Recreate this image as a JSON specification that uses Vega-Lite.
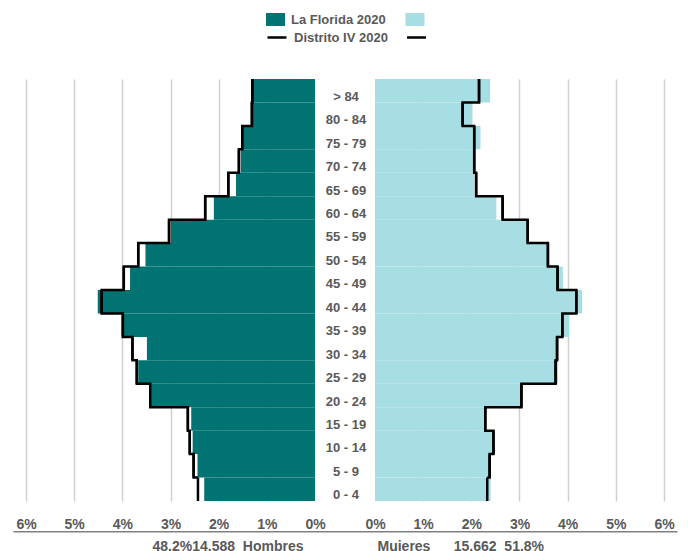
{
  "$schema": "https://vega.github.io/schema/vega-lite/v6.json",
  "width": 664,
  "height": 422,
  "autosize": {"type": "none"},
  "padding": {"left": 13, "top": 79, "right": 11, "bottom": 50},
  "background": "white",
  "config": {"view": {"stroke": null}, "font": "Liberation Sans"},
  "data": {"values": [
    {"edad": "> 84", "sexo": "Hombres", "serie": "La Florida 2020", "pct": 1.28},
    {"edad": "80 - 84", "sexo": "Hombres", "serie": "La Florida 2020", "pct": 1.30},
    {"edad": "75 - 79", "sexo": "Hombres", "serie": "La Florida 2020", "pct": 1.49},
    {"edad": "70 - 74", "sexo": "Hombres", "serie": "La Florida 2020", "pct": 1.54},
    {"edad": "65 - 69", "sexo": "Hombres", "serie": "La Florida 2020", "pct": 1.64},
    {"edad": "60 - 64", "sexo": "Hombres", "serie": "La Florida 2020", "pct": 2.10},
    {"edad": "55 - 59", "sexo": "Hombres", "serie": "La Florida 2020", "pct": 2.99},
    {"edad": "50 - 54", "sexo": "Hombres", "serie": "La Florida 2020", "pct": 3.52},
    {"edad": "45 - 49", "sexo": "Hombres", "serie": "La Florida 2020", "pct": 3.84},
    {"edad": "40 - 44", "sexo": "Hombres", "serie": "La Florida 2020", "pct": 4.51},
    {"edad": "35 - 39", "sexo": "Hombres", "serie": "La Florida 2020", "pct": 3.98},
    {"edad": "30 - 34", "sexo": "Hombres", "serie": "La Florida 2020", "pct": 3.49},
    {"edad": "25 - 29", "sexo": "Hombres", "serie": "La Florida 2020", "pct": 3.67},
    {"edad": "20 - 24", "sexo": "Hombres", "serie": "La Florida 2020", "pct": 3.39},
    {"edad": "15 - 19", "sexo": "Hombres", "serie": "La Florida 2020", "pct": 2.57},
    {"edad": "10 - 14", "sexo": "Hombres", "serie": "La Florida 2020", "pct": 2.54},
    {"edad": "5 - 9", "sexo": "Hombres", "serie": "La Florida 2020", "pct": 2.44},
    {"edad": "0 - 4", "sexo": "Hombres", "serie": "La Florida 2020", "pct": 2.30},
    {"edad": "> 84", "sexo": "Hombres", "serie": "Distrito IV 2020", "pct": 1.30},
    {"edad": "80 - 84", "sexo": "Hombres", "serie": "Distrito IV 2020", "pct": 1.31},
    {"edad": "75 - 79", "sexo": "Hombres", "serie": "Distrito IV 2020", "pct": 1.51},
    {"edad": "70 - 74", "sexo": "Hombres", "serie": "Distrito IV 2020", "pct": 1.58},
    {"edad": "65 - 69", "sexo": "Hombres", "serie": "Distrito IV 2020", "pct": 1.80},
    {"edad": "60 - 64", "sexo": "Hombres", "serie": "Distrito IV 2020", "pct": 2.28},
    {"edad": "55 - 59", "sexo": "Hombres", "serie": "Distrito IV 2020", "pct": 3.03},
    {"edad": "50 - 54", "sexo": "Hombres", "serie": "Distrito IV 2020", "pct": 3.67},
    {"edad": "45 - 49", "sexo": "Hombres", "serie": "Distrito IV 2020", "pct": 3.97},
    {"edad": "40 - 44", "sexo": "Hombres", "serie": "Distrito IV 2020", "pct": 4.43},
    {"edad": "35 - 39", "sexo": "Hombres", "serie": "Distrito IV 2020", "pct": 3.99},
    {"edad": "30 - 34", "sexo": "Hombres", "serie": "Distrito IV 2020", "pct": 3.79},
    {"edad": "25 - 29", "sexo": "Hombres", "serie": "Distrito IV 2020", "pct": 3.70},
    {"edad": "20 - 24", "sexo": "Hombres", "serie": "Distrito IV 2020", "pct": 3.42},
    {"edad": "15 - 19", "sexo": "Hombres", "serie": "Distrito IV 2020", "pct": 2.64},
    {"edad": "10 - 14", "sexo": "Hombres", "serie": "Distrito IV 2020", "pct": 2.60},
    {"edad": "5 - 9", "sexo": "Hombres", "serie": "Distrito IV 2020", "pct": 2.52},
    {"edad": "0 - 4", "sexo": "Hombres", "serie": "Distrito IV 2020", "pct": 2.43},
    {"edad": "> 84", "sexo": "Mujeres", "serie": "La Florida 2020", "pct": 2.39},
    {"edad": "80 - 84", "sexo": "Mujeres", "serie": "La Florida 2020", "pct": 2.02},
    {"edad": "75 - 79", "sexo": "Mujeres", "serie": "La Florida 2020", "pct": 2.19},
    {"edad": "70 - 74", "sexo": "Mujeres", "serie": "La Florida 2020", "pct": 2.08},
    {"edad": "65 - 69", "sexo": "Mujeres", "serie": "La Florida 2020", "pct": 2.06},
    {"edad": "60 - 64", "sexo": "Mujeres", "serie": "La Florida 2020", "pct": 2.52},
    {"edad": "55 - 59", "sexo": "Mujeres", "serie": "La Florida 2020", "pct": 3.15},
    {"edad": "50 - 54", "sexo": "Mujeres", "serie": "La Florida 2020", "pct": 3.57},
    {"edad": "45 - 49", "sexo": "Mujeres", "serie": "La Florida 2020", "pct": 3.90},
    {"edad": "40 - 44", "sexo": "Mujeres", "serie": "La Florida 2020", "pct": 4.30},
    {"edad": "35 - 39", "sexo": "Mujeres", "serie": "La Florida 2020", "pct": 4.03},
    {"edad": "30 - 34", "sexo": "Mujeres", "serie": "La Florida 2020", "pct": 3.80},
    {"edad": "25 - 29", "sexo": "Mujeres", "serie": "La Florida 2020", "pct": 3.80},
    {"edad": "20 - 24", "sexo": "Mujeres", "serie": "La Florida 2020", "pct": 3.04},
    {"edad": "15 - 19", "sexo": "Mujeres", "serie": "La Florida 2020", "pct": 2.29},
    {"edad": "10 - 14", "sexo": "Mujeres", "serie": "La Florida 2020", "pct": 2.47},
    {"edad": "5 - 9", "sexo": "Mujeres", "serie": "La Florida 2020", "pct": 2.39},
    {"edad": "0 - 4", "sexo": "Mujeres", "serie": "La Florida 2020", "pct": 2.40},
    {"edad": "> 84", "sexo": "Mujeres", "serie": "Distrito IV 2020", "pct": 2.16},
    {"edad": "80 - 84", "sexo": "Mujeres", "serie": "Distrito IV 2020", "pct": 1.82},
    {"edad": "75 - 79", "sexo": "Mujeres", "serie": "Distrito IV 2020", "pct": 2.06},
    {"edad": "70 - 74", "sexo": "Mujeres", "serie": "Distrito IV 2020", "pct": 2.06},
    {"edad": "65 - 69", "sexo": "Mujeres", "serie": "Distrito IV 2020", "pct": 2.10},
    {"edad": "60 - 64", "sexo": "Mujeres", "serie": "Distrito IV 2020", "pct": 2.65},
    {"edad": "55 - 59", "sexo": "Mujeres", "serie": "Distrito IV 2020", "pct": 3.17},
    {"edad": "50 - 54", "sexo": "Mujeres", "serie": "Distrito IV 2020", "pct": 3.59},
    {"edad": "45 - 49", "sexo": "Mujeres", "serie": "Distrito IV 2020", "pct": 3.79},
    {"edad": "40 - 44", "sexo": "Mujeres", "serie": "Distrito IV 2020", "pct": 4.18},
    {"edad": "35 - 39", "sexo": "Mujeres", "serie": "Distrito IV 2020", "pct": 3.89},
    {"edad": "30 - 34", "sexo": "Mujeres", "serie": "Distrito IV 2020", "pct": 3.78},
    {"edad": "25 - 29", "sexo": "Mujeres", "serie": "Distrito IV 2020", "pct": 3.75},
    {"edad": "20 - 24", "sexo": "Mujeres", "serie": "Distrito IV 2020", "pct": 3.04},
    {"edad": "15 - 19", "sexo": "Mujeres", "serie": "Distrito IV 2020", "pct": 2.29},
    {"edad": "10 - 14", "sexo": "Mujeres", "serie": "Distrito IV 2020", "pct": 2.46},
    {"edad": "5 - 9", "sexo": "Mujeres", "serie": "Distrito IV 2020", "pct": 2.38},
    {"edad": "0 - 4", "sexo": "Mujeres", "serie": "Distrito IV 2020", "pct": 2.33}
  ]},
  "layer": [
    {
      "layer": [
        {
          "transform": [{"filter": "datum.sexo === 'Hombres' && datum.serie === 'La Florida 2020'"}],
          "mark": {"type": "bar"},
          "encoding": {
            "y": {"field": "edad", "type": "nominal",
              "scale": {"type": "band", "paddingInner": 0, "paddingOuter": 0, "domain": ["> 84","80 - 84","75 - 79","70 - 74","65 - 69","60 - 64","55 - 59","50 - 54","45 - 49","40 - 44","35 - 39","30 - 34","25 - 29","20 - 24","15 - 19","10 - 14","5 - 9","0 - 4"]},
              "axis": {"orient": "left", "offset": -332.5, "title": null, "domain": false, "ticks": false, "tickSize": 0, "grid": false, "labelPadding": 0, "labelAlign": "center", "labelBaseline": "middle", "labelOffset": 6, "labelFont": "Liberation Sans", "labelFontSize": 13, "labelFontWeight": "bold", "labelColor": "#595959"}},
            "x": {"field": "pct", "type": "quantitative",
              "scale": {"domain": [-7.515, 6.27], "reverse": true, "nice": false},
              "axis": {"orient": "top", "offset": -452.3, "values": [0,1,2,3,4,5,6], "labelExpr": "datum.value + '%'", "ticks": false, "tickSize": 0, "labelPadding": 3, "labelBaseline": "alphabetic", "labelFlush": false, "labelOverlap": false, "labelFont": "Liberation Sans", "labelFontSize": 14, "labelFontWeight": "bold", "labelColor": "#595959", "domain": true, "domainColor": "#808080", "domainWidth": 1.5, "grid": true, "gridColor": {"condition": {"test": "datum.value === 0", "value": "transparent"}, "value": "#d0d0d0"}, "gridWidth": 1.5, "title": "48.2%14.588\u00a0\u00a0Hombres", "titleX": 290, "titleY": 18.7, "titleAlign": "right", "titleBaseline": "alphabetic", "titleAngle": 0, "titleFont": "Liberation Sans", "titleFontSize": 14, "titleFontWeight": "bold", "titleColor": "#595959"}},
            "color": {"field": "serie", "type": "nominal", "scale": {"range": ["#007372"]},
              "legend": {"orient": "none", "legendX": 256, "legendY": -66, "title": null, "symbolType": "M-1.46,-1H1.46V1H-1.46Z", "symbolSize": 169, "symbolStrokeWidth": 0, "labelOffset": 9, "labelFont": "Liberation Sans", "labelFontSize": 13, "labelFontWeight": "bold", "labelColor": "#595959"}}
          }
        },
        {
          "transform": [{"filter": "datum.sexo === 'Hombres' && datum.serie === 'Distrito IV 2020'"}],
          "mark": {"type": "line", "interpolate": "step-before", "strokeWidth": 2.5, "strokeJoin": "miter", "strokeCap": "butt"},
          "encoding": {
            "y": {"field": "edad", "type": "nominal", "bandPosition": 0,
              "scale": {"type": "band", "paddingInner": 0, "paddingOuter": 0, "domain": ["> 84","80 - 84","75 - 79","70 - 74","65 - 69","60 - 64","55 - 59","50 - 54","45 - 49","40 - 44","35 - 39","30 - 34","25 - 29","20 - 24","15 - 19","10 - 14","5 - 9","0 - 4"]}},
            "x": {"field": "pct", "type": "quantitative", "scale": {"domain": [-7.515, 6.27], "reverse": true, "nice": false}},
            "stroke": {"field": "serie", "type": "nominal", "scale": {"range": ["#000000"]},
              "legend": {"orient": "none", "legendX": 256, "legendY": -49.5, "title": null, "symbolType": "M-1.46,0H1.46", "symbolSize": 169, "symbolStrokeWidth": 2.5, "labelOffset": 9, "labelFont": "Liberation Sans", "labelFontSize": 13, "labelFontWeight": "bold", "labelColor": "#595959"}},
            "order": {"value": null}
          }
        },
        {
          "transform": [{"filter": "datum.sexo === 'Hombres' && datum.serie === 'Distrito IV 2020'"}],
          "mark": {"type": "tick", "color": "#000000", "thickness": 2.5, "size": 23.45, "opacity": 1},
          "encoding": {
            "y": {"field": "edad", "type": "nominal",
              "scale": {"type": "band", "paddingInner": 0, "paddingOuter": 0, "domain": ["> 84","80 - 84","75 - 79","70 - 74","65 - 69","60 - 64","55 - 59","50 - 54","45 - 49","40 - 44","35 - 39","30 - 34","25 - 29","20 - 24","15 - 19","10 - 14","5 - 9","0 - 4"]}},
            "x": {"field": "pct", "type": "quantitative", "scale": {"domain": [-7.515, 6.27], "reverse": true, "nice": false}}
          }
        }
      ]
    },
    {
      "layer": [
        {
          "transform": [{"filter": "datum.sexo === 'Mujeres' && datum.serie === 'La Florida 2020'"}],
          "mark": {"type": "bar"},
          "encoding": {
            "y": {"field": "edad", "type": "nominal",
              "scale": {"type": "band", "paddingInner": 0, "paddingOuter": 0, "domain": ["> 84","80 - 84","75 - 79","70 - 74","65 - 69","60 - 64","55 - 59","50 - 54","45 - 49","40 - 44","35 - 39","30 - 34","25 - 29","20 - 24","15 - 19","10 - 14","5 - 9","0 - 4"]},
              "axis": {"orient": "left", "offset": -332.5, "title": null, "domain": false, "ticks": false, "tickSize": 0, "grid": false, "labelPadding": 0, "labelAlign": "center", "labelBaseline": "middle", "labelOffset": 6, "labelFont": "Liberation Sans", "labelFontSize": 13, "labelFontWeight": "bold", "labelColor": "#595959"}},
            "x": {"field": "pct", "type": "quantitative",
              "scale": {"domain": [-7.515, 6.27], "nice": false},
              "axis": {"orient": "top", "offset": -452.3, "values": [0,1,2,3,4,5,6], "labelExpr": "datum.value + '%'", "ticks": false, "tickSize": 0, "labelPadding": 3, "labelBaseline": "alphabetic", "labelFlush": false, "labelOverlap": false, "labelFont": "Liberation Sans", "labelFontSize": 14, "labelFontWeight": "bold", "labelColor": "#595959", "domain": false, "grid": true, "gridColor": {"condition": {"test": "datum.value === 0", "value": "transparent"}, "value": "#d0d0d0"}, "gridWidth": 1.5, "title": "Mujeres\u00a0\u00a0\u00a0\u00a0\u00a0\u00a015.662\u00a0\u00a051.8%", "titleX": 364, "titleY": 18.7, "titleAlign": "left", "titleBaseline": "alphabetic", "titleAngle": 0, "titleFont": "Liberation Sans", "titleFontSize": 14, "titleFontWeight": "bold", "titleColor": "#595959"}},
            "color": {"field": "serie", "type": "nominal", "scale": {"range": ["#A6DEE3"]},
              "legend": {"orient": "none", "legendX": 395.5, "legendY": -66, "title": null, "symbolType": "M-1.46,-1H1.46V1H-1.46Z", "symbolSize": 169, "symbolStrokeWidth": 0, "labelOpacity": 0, "labelFontSize": 13}}
          }
        },
        {
          "transform": [{"filter": "datum.sexo === 'Mujeres' && datum.serie === 'Distrito IV 2020'"}],
          "mark": {"type": "line", "interpolate": "step-before", "strokeWidth": 2.5, "strokeJoin": "miter", "strokeCap": "butt"},
          "encoding": {
            "y": {"field": "edad", "type": "nominal", "bandPosition": 0,
              "scale": {"type": "band", "paddingInner": 0, "paddingOuter": 0, "domain": ["> 84","80 - 84","75 - 79","70 - 74","65 - 69","60 - 64","55 - 59","50 - 54","45 - 49","40 - 44","35 - 39","30 - 34","25 - 29","20 - 24","15 - 19","10 - 14","5 - 9","0 - 4"]}},
            "x": {"field": "pct", "type": "quantitative", "scale": {"domain": [-7.515, 6.27], "nice": false}},
            "stroke": {"field": "serie", "type": "nominal", "scale": {"range": ["#000000"]},
              "legend": {"orient": "none", "legendX": 395.5, "legendY": -49.5, "title": null, "symbolType": "M-1.46,0H1.46", "symbolSize": 169, "symbolStrokeWidth": 2.5, "labelOpacity": 0, "labelFontSize": 13}},
            "order": {"value": null}
          }
        },
        {
          "transform": [{"filter": "datum.sexo === 'Mujeres' && datum.serie === 'Distrito IV 2020'"}],
          "mark": {"type": "tick", "color": "#000000", "thickness": 2.5, "size": 23.45, "opacity": 1},
          "encoding": {
            "y": {"field": "edad", "type": "nominal",
              "scale": {"type": "band", "paddingInner": 0, "paddingOuter": 0, "domain": ["> 84","80 - 84","75 - 79","70 - 74","65 - 69","60 - 64","55 - 59","50 - 54","45 - 49","40 - 44","35 - 39","30 - 34","25 - 29","20 - 24","15 - 19","10 - 14","5 - 9","0 - 4"]}},
            "x": {"field": "pct", "type": "quantitative", "scale": {"domain": [-7.515, 6.27], "nice": false}}
          }
        }
      ]
    }
  ],
  "resolve": {
    "scale": {"x": "independent", "color": "independent", "stroke": "independent"},
    "axis": {"x": "independent"},
    "legend": {"color": "independent", "stroke": "independent"}
  }
}
